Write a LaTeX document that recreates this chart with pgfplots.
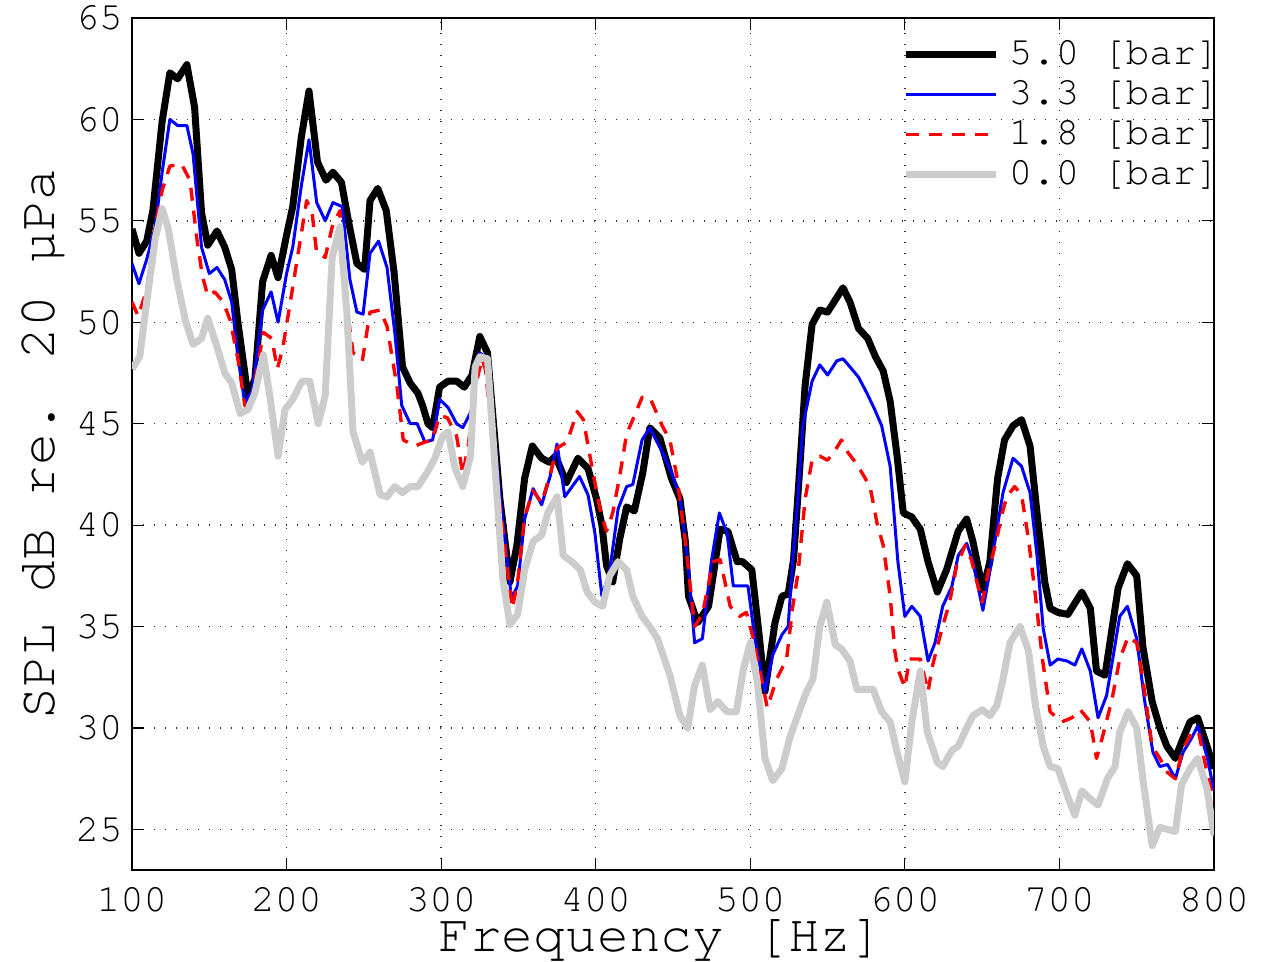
\documentclass[border=0pt]{standalone}
\usepackage{fontspec}
\setmainfont{TeX Gyre Cursor}
\usepackage{pgfplots}
\usepackage{pgfplotstable}
\pgfplotsset{compat=1.18}

% SPL spectra
\pgfplotstableread{
f v
100 54.6
104.5 53.4
109.5 54.0
113.5 55.5
119.5 59.9
124.5 62.3
129.5 62.0
135.5 62.7
140.5 60.6
145 55.4
149 53.8
155 54.5
160 53.7
164.5 52.6
168.5 50.0
173 47.5
175 46.3
179.5 47.2
184.5 52.0
190 53.3
194.5 52.2
200 54.3
204 55.7
209.5 59.1
214.5 61.4
220 57.9
225.5 57.0
230 57.4
235.5 56.9
240 55.0
245.5 52.9
250.5 52.6
254 56.0
259 56.6
264.5 55.5
269.5 52.5
275 47.8
280 47.0
285 46.5
288 45.9
291.5 45.0
294.5 44.8
299 46.8
304.5 47.1
310 47.1
315 46.8
320 47.4
325 49.3
330 48.5
338 41.3
344.5 37.2
349 39.0
354 42.3
359 43.9
365 43.3
370 43.1
374 43.4
381 42.1
388.5 43.3
395 42.8
400.5 41.3
404 40.0
407 38.0
411 37.2
415.5 39.3
420 40.9
425 40.7
430.5 42.6
435 44.8
441.5 44.3
449 42.3
454.5 41.3
458 39.2
460 36.5
466 35.2
473 36.0
480.5 39.8
485.5 39.7
491.5 38.2
495 38.2
501 37.8
506 34.4
509.5 31.8
516 35.2
520.5 36.5
524.5 36.6
528 38.3
532 42.8
535.5 46.9
540 49.9
545 50.6
550 50.5
555 51.1
560 51.7
564.5 51.0
570 49.7
576 49.2
581 48.3
586 47.6
590.5 46.1
595 43.4
599 40.6
604.5 40.4
610 39.8
615 38.2
621 36.7
627 37.8
634.5 39.7
640 40.3
644 39.2
650.5 36.8
655 38.2
660 42.3
664.5 44.2
670 44.9
675.5 45.2
681 43.9
685.5 40.6
690.5 37.2
694 35.9
699 35.7
705.5 35.6
714.5 36.7
720 35.9
724 32.8
729.5 32.6
738 36.9
744 38.1
750 37.5
754 34.0
760 31.3
765 30.0
769.5 29.1
775 28.5
779 29.3
784.5 30.3
789.5 30.5
795.5 29.1
800 28.0
}\barfive

\pgfplotstableread{
f v
100 52.9
104.5 51.9
109.5 53.1
115 54.7
119.5 57.4
124.5 60.0
129.5 59.7
135.5 59.7
139.5 58.3
145 53.7
150 52.4
155 52.7
160 52.1
164.5 51.0
168.5 48.3
173 46.0
178 46.7
184.5 50.6
190 51.5
194.5 50.0
200 52.4
204 53.7
209.5 56.7
214.5 59.0
219.5 55.9
225 55.0
230 55.9
236 55.7
241 52.1
245.5 50.5
249.5 50.4
254 53.4
259.5 54.0
265 52.7
270 49.5
274.5 45.9
280 45.0
284.5 45.0
289.5 44.1
294.5 44.2
299 46.2
304.5 45.8
310 45.0
314 44.8
320 45.7
325 48.5
330 48.2
338 41.5
345.5 36.4
349.5 37.0
354 40.3
359.5 41.8
365 41.0
370.5 42.4
375 44.0
380 41.4
389.5 42.4
395 41.5
399.5 39.6
404 36.5
409 37.7
414.5 40.8
420 41.9
424 42.0
430 44.2
435 44.8
443 43.6
449 42.6
454.5 41.4
459.5 38.3
464 34.2
469 34.4
475 38.3
480 40.6
485 39.6
489 37.0
498.5 37.0
503 34.4
509.5 31.8
514.5 33.6
520.5 34.6
524.5 35.0
527.5 38.3
531 41.5
534 44.9
540 47.1
545 47.9
550 47.4
556 48.1
560 48.2
564.5 47.8
570 47.3
575.5 46.5
580.5 45.7
585 44.9
590.5 42.9
595.5 38.2
600 35.5
604.5 36.0
610 35.5
615 33.3
619.5 34.2
624.5 36.0
630.5 37.0
634.5 38.5
640 39.1
644 38.2
650.5 35.8
654 37.3
658.5 39.3
663.5 41.6
670 43.3
675.5 42.9
681 41.6
685.5 38.5
689.5 34.9
694 33.1
699 33.4
705 33.3
710 33.1
714.5 33.9
720 32.8
725 30.5
730.5 31.6
734.5 33.4
739 35.5
744 36.0
750 34.4
755 31.4
760.5 28.8
765 28.1
770 28.2
775 27.5
780 28.8
785.5 29.5
789.5 30.1
795.5 28.6
800 26.9
}\barthree

\pgfplotstableread{
f v
100 51.0
104 50.3
109.5 51.6
115 54.7
119.5 56.5
124.5 57.7
132 57.8
137.5 57.0
142 54.1
145.5 52.3
149 51.3
153.5 51.5
159 51.0
163.5 50.1
168.5 48.2
173 45.9
176 45.6
181 47.7
185 49.5
190.5 49.2
194 47.7
197.5 48.7
202 50.8
207.5 53.4
213 56.0
216.5 55.4
219.5 53.4
225 53.2
229.5 54.7
234.5 55.5
239.5 50.5
243 48.5
249 48.1
254 50.5
260.5 50.6
265 49.8
271.5 46.8
275.5 44.2
283 43.9
289.5 44.1
294.5 44.2
299 45.4
304 45.3
310 44.4
314 42.5
317.5 43.9
322 46.8
326.5 48.2
328.5 47.7
338 41.0
346 35.9
349.5 37.2
354 40.4
359.5 41.7
365 41.1
370.5 42.5
375 43.8
381.5 44.1
388 45.6
392 45.2
397.5 42.9
403 40.7
407 39.7
411 40.6
415.5 42.4
420 44.5
424 45.2
430 46.3
435 46.3
443 44.9
448 44.2
452.5 42.4
458 39.2
464 35.0
469 35.6
476 38.2
480.5 38.3
487 36.0
493 35.5
497.5 35.7
502 34.4
511 31.0
517 32.4
523.5 33.4
527.5 36.0
531 37.7
535.5 41.3
540 43.2
545 43.4
550 43.2
555 43.7
559 44.2
563 43.6
569 43.0
577.5 41.9
582 40.1
586 39.0
590.5 36.5
593.5 33.8
595.5 32.9
600 32.0
603 33.4
610 33.4
615 31.8
618 33.1
624 34.9
629 36.2
633.5 38.0
639 39.0
643 38.3
650 36.2
654 37.7
658.5 39.0
663 40.6
666 41.4
671 41.9
675.5 41.5
680 39.3
684.5 36.5
689 33.4
694 30.8
701.5 30.3
708 30.5
713.5 30.9
720 30.3
724 28.5
728 29.6
734 31.4
739 33.4
744.5 34.5
750 34.2
754 32.4
760 29.1
765 28.5
770 27.8
775 27.5
780 29.0
786 29.8
790 29.8
795.5 27.8
800 26.4
}\baronepeight

\pgfplotstableread{
f v
100 47.7
105 48.3
109.5 51.0
115 54.1
119.5 55.6
123.5 54.6
129 52.1
134.5 50.1
139.5 48.9
145 49.2
149 50.2
155 48.8
160 47.5
164.5 47.0
170 45.5
175 45.7
179.5 46.5
185 48.4
189.5 46.2
194.5 43.4
199 45.7
204 46.2
210 47.1
215 47.1
220.5 45.0
225 46.4
229.5 53.2
234.5 54.7
239 50.5
243 44.6
249 43.1
254 43.6
260.5 41.5
265 41.4
270 41.9
275 41.6
280 41.9
285 41.9
291 42.6
296 43.3
301 44.4
304.5 44.6
309 42.8
314 41.9
319 43.4
322 47.8
325 48.3
330 48.2
336 41.6
340 37.3
344.5 35.1
349.5 35.6
354 37.8
359.5 39.2
365 39.5
369 40.6
375 41.4
379 38.5
384.5 38.2
390 37.8
394.5 36.7
399.5 36.2
404.5 36.0
409 37.5
414.5 38.2
420 37.8
424 36.5
430 35.5
435 35.0
440 34.4
448 32.6
454.5 30.6
459.5 30.0
464 32.1
469 33.1
474 30.9
479 31.3
485 30.8
491 30.8
495.5 32.9
500 34.2
504.5 32.3
509.5 28.5
514.5 27.4
520.5 28.0
525.5 29.5
532 30.9
536.5 31.8
540.5 32.4
545 35.0
549.5 36.2
555 34.1
559 33.9
564.5 33.3
569 31.9
574 31.9
579.5 31.9
585 30.8
590.5 30.3
595 28.8
600 27.35
604.5 30.3
610 32.8
614.5 29.8
621 28.3
624.5 28.1
630.5 28.9
634.5 29.1
640 30.0
644 30.6
650 30.9
655 30.6
659.5 31.1
663.5 32.4
668 34.2
674.5 35.0
680 33.8
684.5 31.1
689.5 29.1
694 28.1
699 28.0
705 26.7
710 25.7
714.5 26.9
720 26.5
725 26.2
731 27.5
736 28.1
739 29.8
744.5 30.8
750 30.0
754 27.5
760 24.2
765 25.1
770 25.0
775 24.9
779 27.2
784.5 28.0
789.5 28.5
795.5 27.0
800 24.7
}\barzero

\begin{document}
\begin{tikzpicture}
\useasboundingbox (-66pt,-46pt) rectangle (566pt,435pt);
\begin{axis}[
    at={(0,0)}, anchor=south west,
    width=541pt, height=426pt, scale only axis,
    xmin=100, xmax=800, ymin=23, ymax=65,
    xtick={100,200,...,800},
    ytick={25,30,...,65},
    grid=major,
    major grid style={black!80, line width=0.7pt, dash pattern=on 0.7pt off 4.8pt},
    axis line style={line width=0.9pt},
    tick align=inside,
    major tick length=6pt,
    every tick/.style={black, line width=0.6pt},
    /pgf/number format/assume math mode=true,
    tick label style={font=\fontsize{19.5}{22}\selectfont},
    xticklabel style={inner sep=0pt, anchor=north, yshift=-8.5pt},
    yticklabel style={inner sep=0pt, anchor=east, xshift=-4.5pt},
    xlabel={Frequency [Hz]},
    ylabel={SPL dB re. 20 µPa},
    label style={font=\fontsize{26.5}{30}\selectfont},
    xlabel style={at={(axis description cs:0.5,-0.0962)}, anchor=base, xshift=-6pt,
        inner sep=0pt, text height=17pt},
    ylabel style={at={(axis description cs:-0.0712,0.5)}, anchor=base},
    legend style={at={(1,1)}, anchor=north east, xshift=3pt,
        draw=none, fill=none,
        inner xsep=0pt, inner ysep=9pt,
        row sep=2pt,
        font=\fontsize{19.5}{22}\selectfont,
        nodes={inner sep=0pt, text height=14pt, text depth=4pt},
        /tikz/every odd column/.append style={column sep=4.5pt}},
    legend cell align=left,
    legend image code/.code={\draw[#1] (0pt,0pt) -- (45pt,0pt);},
    every axis plot/.append style={line join=round},
]
\addplot[black, line width=3.5pt] table[x=f, y=v] {\barfive};
\addlegendentry{5.0 [bar]}
\addplot[blue, line width=1.5pt] table[x=f, y=v] {\barthree};
\addlegendentry{3.3 [bar]}
\addplot[red, line width=1.7pt, dash pattern=on 6.5pt off 5pt] table[x=f, y=v] {\baronepeight};
\addlegendentry{1.8 [bar]}
\addplot[black!20, line width=3.5pt] table[x=f, y=v] {\barzero};
\addlegendentry{0.0 [bar]}
\end{axis}
\end{tikzpicture}
\end{document}
